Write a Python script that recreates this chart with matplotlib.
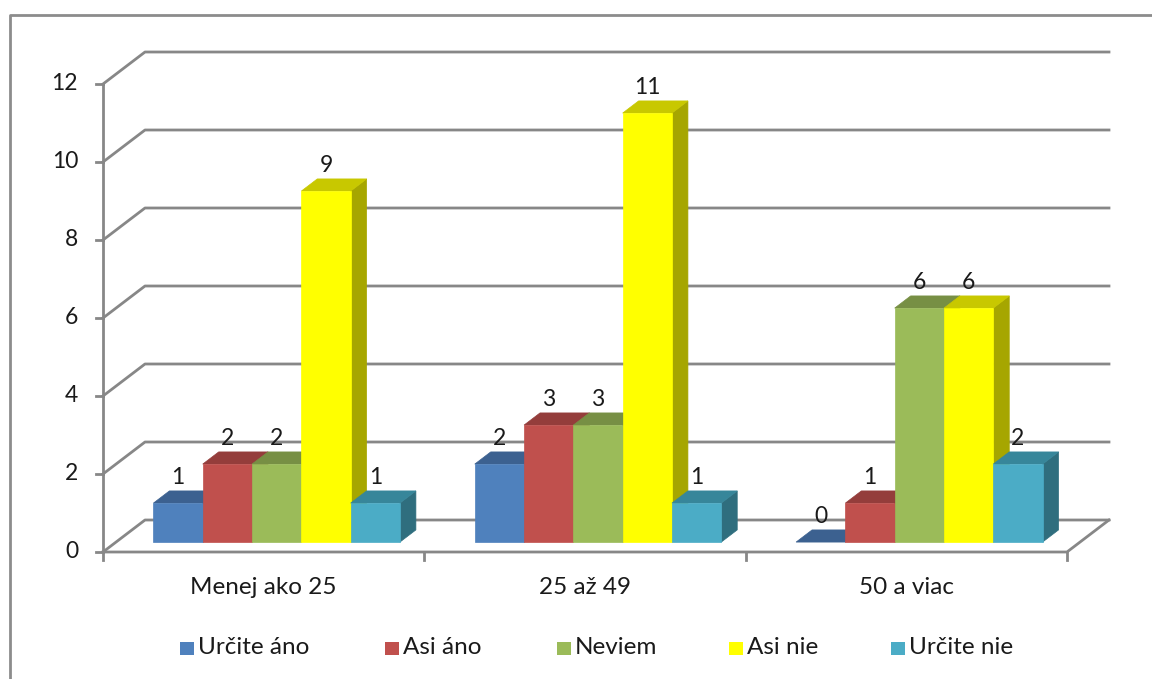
import matplotlib
matplotlib.use('Agg')
import matplotlib.pyplot as plt
from matplotlib.patches import Polygon, Rectangle
from matplotlib.lines import Line2D

plt.rcParams['font.family'] = ['Lato', 'DejaVu Sans']

categories = ['Menej ako 25', '25 až 49', '50 a viac']
series = ['Určite áno', 'Asi áno', 'Neviem', 'Asi nie', 'Určite nie']
urcite_ano = [1, 2, 0]
asi_ano = [2, 3, 1]
neviem = [2, 3, 6]
asi_nie = [9, 11, 6]
urcite_nie = [1, 1, 2]
values = [urcite_ano, asi_ano, neviem, asi_nie, urcite_nie]
y_ticks = [0, 2, 4, 6, 8, 10, 12]

# front / top / side colours per series
front = ['#4f81bd', '#c0504d', '#9bbb59', '#ffff00', '#4bacc6']
top = ['#3c6190', '#943d3b', '#778f44', '#c8c800', '#37869a']
side = ['#2f4d73', '#7a3230', '#5f7336', '#a6a600', '#2f6e7e']

W, H = 1152, 679
PX_CAT = 321.33   # pixels per category
PX_VAL = 39.0     # pixels per unit
X0, Y0 = 103, 552  # origin in pixels
FS_NUM = 16.5
FS_TXT = 17.5

fig = plt.figure(figsize=(W / 100, H / 100), dpi=100)
ax = fig.add_axes([0, 0, 1, 1])
ax.set_xlim(-X0 / PX_CAT, (W - X0) / PX_CAT)
ax.set_ylim(-(H - Y0) / PX_VAL, Y0 / PX_VAL)
ax.axis('off')

# depth of the floor in data units
DX = 42 / PX_CAT
DY = 32 / PX_VAL
grid_c = '#878787'
ncat = len(categories)

# walls and grid
for v in y_ticks:
    ax.plot([0, DX, ncat + DX], [v, v + DY, v + DY], color=grid_c, lw=2, zorder=1)
    ax.plot([-7 / PX_CAT, 0], [v, v], color=grid_c, lw=2, zorder=1)
    ax.text(-25 / PX_CAT, v, str(v), ha='right', va='center', fontsize=FS_NUM, color='#1a1a1a')
ax.plot([0, 0], [0, y_ticks[-1]], color=grid_c, lw=2, zorder=1)
ax.plot([0, ncat, ncat + DX], [0, 0, DY], color=grid_c, lw=2, zorder=1)
for c in range(ncat + 1):
    ax.plot([c, c], [0, -8 / PX_VAL], color=grid_c, lw=2, zorder=1)

# bars
w = 49.3 / PX_CAT
d0, d1 = 0.31, 0.69
bdx, bdy = (d1 - d0) * DX, (d1 - d0) * DY
off = (1 - len(series) * w) / 2
z = 2
for c in range(ncat):
    for i in range(len(series)):
        v = values[i][c]
        xl = c + off + i * w + d0 * DX
        yb = d0 * DY
        sd = Polygon([(xl + w, yb), (xl + w + bdx, yb + bdy), (xl + w + bdx, yb + v + bdy), (xl + w, yb + v)],
                     closed=True, fc=side[i], ec=side[i], lw=0.5, zorder=z)
        tp = Polygon([(xl, yb + v), (xl + w, yb + v), (xl + w + bdx, yb + v + bdy), (xl + bdx, yb + v + bdy)],
                     closed=True, fc=top[i], ec=top[i], lw=0.5, zorder=z + 1)
        ax.add_patch(sd)
        ax.add_patch(tp)
        if v > 0:
            fr = Rectangle((xl, yb), w, v, fc=front[i], ec=front[i], lw=0.5, zorder=z + 2)
            ax.add_patch(fr)
        z += 3
        ax.text(xl + w / 2, yb + v + 26 / PX_VAL, str(v), ha='center', va='center',
                fontsize=FS_NUM, color='#1a1a1a', zorder=100)

for c, name in enumerate(categories):
    ax.text(c + 0.5, -35 / PX_VAL, name, ha='center', va='center', fontsize=FS_TXT, color='#1a1a1a')

# legend
leg_x = [180, 385, 557, 729, 891]
leg_y = 648
for i, name in enumerate(series):
    fig.add_artist(Rectangle((leg_x[i] / W, 1 - (leg_y + 7) / H), 14 / W, 13 / H,
                             transform=fig.transFigure, fc=front[i], ec='none'))
    fig.text((leg_x[i] + 18) / W, 1 - leg_y / H, name, ha='left', va='center',
             fontsize=FS_TXT, color='#1a1a1a')

# outer border
fig.add_artist(Line2D([10 / W, 10 / W, 1], [0, 1 - 15 / H, 1 - 15 / H],
                      transform=fig.transFigure, color='#8c8c8c', lw=2))

fig.savefig('out.png', dpi=100)
